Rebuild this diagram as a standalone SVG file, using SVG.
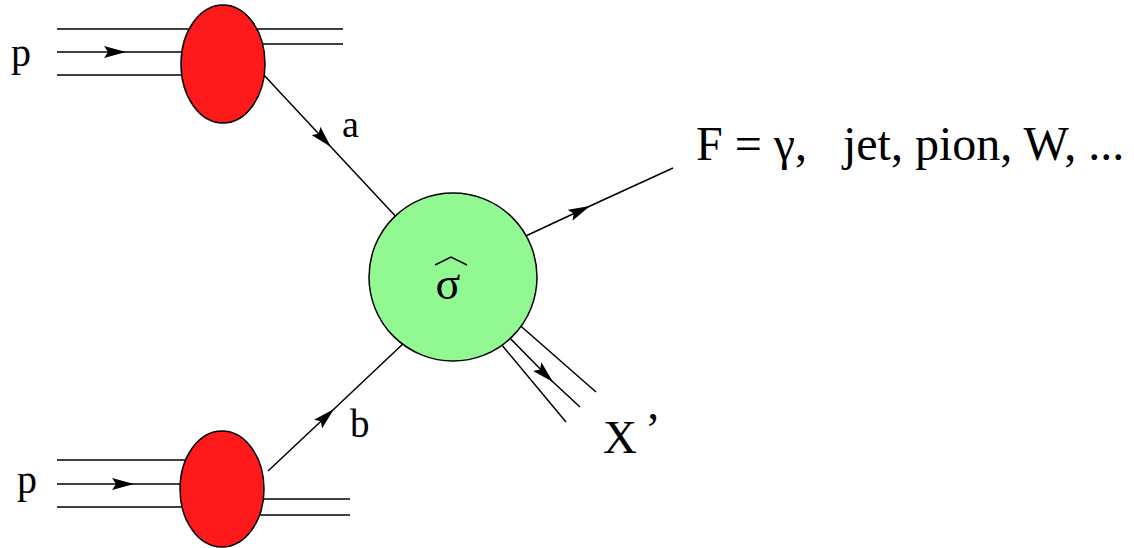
<svg xmlns="http://www.w3.org/2000/svg" width="1134" height="548" viewBox="0 0 1134 548">
<style>
.ln{fill:none;stroke:#000;stroke-width:1.5}
.arr{marker-mid:url(#ah)}
.blob{fill:#fe1a1a;stroke:#000;stroke-width:1.5}
.hard{fill:#92f892;stroke:#000;stroke-width:1.5}
.t{fill:#000;white-space:pre;font-family:'Liberation Serif','Times New Roman',serif}
</style>
<defs>
<marker id="ah" viewBox="0 0 22 12" refX="22" refY="6" markerWidth="22" markerHeight="12" markerUnits="userSpaceOnUse" orient="auto">
<path d="M0,0 L22,6 L0,12 L4,6 z" fill="#000"/>
</marker>
</defs>
<rect width="1134" height="548" fill="#fff"/>
<g id="connectors">
<path class="ln" d="M57,29 L343,29"/>
<path class="ln arr" d="M57,52 L126,52 L223,52"/>
<path class="ln" d="M57,75 L223,75"/>
<path class="ln" d="M223,44 L343,44"/>
<path class="ln" d="M57,460 L222,460"/>
<path class="ln arr" d="M57,484 L134,484 L222,484"/>
<path class="ln" d="M57,507 L222,507"/>
<path class="ln" d="M222,499 L350,499"/>
<path class="ln" d="M222,515 L350,515"/>
<path class="ln arr" d="M262,73 L331,147 L400,221"/>
<path class="ln arr" d="M268,471 L334,409 L405,342"/>
<path class="ln arr" d="M515,241 L590,206 L673,168"/>
<path class="ln" d="M515,321 L596,392"/>
<path class="ln arr" d="M505,333 L553,382 L580,407"/>
<path class="ln" d="M496,338 L566,422"/>
</g>
<g id="proton-top"><ellipse class="blob" cx="223" cy="64" rx="42" ry="59"/></g>
<g id="proton-bottom"><ellipse class="blob" cx="222" cy="489" rx="42" ry="58"/></g>
<g id="hard-process">
<circle class="hard" cx="453" cy="277" r="84"/>
<polyline points="435,265 451,257 467,265" fill="none" stroke="#000" stroke-width="1.5"/>
<text class="t" x="448" y="299" font-size="46" text-anchor="middle">σ</text>
</g>
<g id="labels">
<text class="t" x="11" y="66" font-size="40">p</text>
<text class="t" x="17" y="493" font-size="40">p</text>
<text class="t" x="342" y="137" font-size="38">a</text>
<text class="t" x="350" y="437" font-size="39">b</text>
<text class="t" x="696" y="160" font-size="48">F = γ,   jet, pion, W, ...</text>
<text class="t" x="603" y="453" font-size="47">X</text>
<text class="t" x="645" y="445" font-size="47">’</text>
</g>
</svg>
